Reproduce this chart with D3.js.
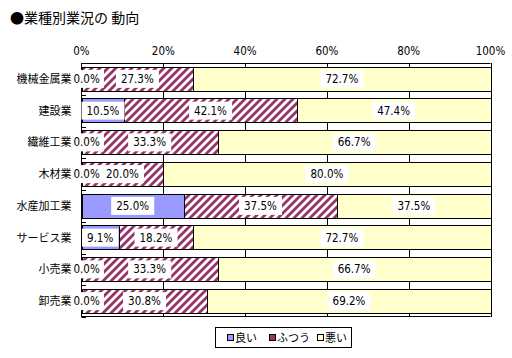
<!DOCTYPE html>
<html><head><meta charset="utf-8">
<script src="https://cdn.jsdelivr.net/npm/d3@7"></script>
<style>
html,body{margin:0;padding:0;background:#fff;}
svg{display:block;}
</style></head>
<body>
<script>
const categories = ['機械金属業','建設業','繊維工業','木材業','水産加工業','サービス業','小売業','卸売業'];
const seriesNames = ['良い','ふつう','悪い'];
const good = [0.0, 10.5, 0.0, 0.0, 25.0, 9.1, 0.0, 0.0];
const normal = [27.3, 42.1, 33.3, 20.0, 37.5, 18.2, 33.3, 30.8];
const bad = [72.7, 47.4, 66.7, 80.0, 37.5, 72.7, 66.7, 69.2];
const tickValues = [0, 20, 40, 60, 80, 100];
const tickLabels = ['0%','20%','40%','60%','80%','100%'];

const W = 512, H = 358;
const numFont = '"Liberation Sans Narrow","DejaVu Sans Condensed",sans-serif';
const jpFont = '"Noto Sans CJK JP","Noto Sans CJK SC",sans-serif';

const svg = d3.select('body').append('svg').attr('width', W).attr('height', H);

const defs = svg.append('defs');
const pat = defs.append('pattern').attr('id','hatch').attr('patternUnits','userSpaceOnUse')
  .attr('width',8).attr('height',8);
pat.append('rect').attr('width',8).attr('height',8).attr('fill','#fff');
pat.append('path').attr('d','M-2,2 L2,-2 M0,8 L8,0 M6,10 L10,6')
  .attr('stroke','#993366').attr('stroke-width',2.8);

const fills = ['#9999FF','url(#hatch)','#FFFFCC'];

const x = d3.scaleLinear().domain([0,100]).range([81.5, 490.5]);
const y = d3.scaleBand().domain(categories).range([63, 317]).paddingInner(0.23).paddingOuter(0.115);

// title
svg.append('text').attr('x', 10).attr('y', 23).attr('font-family', jpFont).attr('font-size', 14)
  .attr('fill','#000').text('●業種別業況の 動向');

// gridlines
svg.append('g').selectAll('line').data(tickValues.slice(1)).join('line')
  .attr('x1', d => Math.round(x(d)) + 0.5).attr('x2', d => Math.round(x(d)) + 0.5)
  .attr('y1', 63).attr('y2', 317).attr('stroke', '#000').attr('stroke-width', 1);

// stacked data
const rows = categories.map((c, i) => ({cat: c, vals: [good[i], normal[i], bad[i]]}));
const segs = [];
rows.forEach(r => {
  let acc = 0;
  r.vals.forEach((v, k) => { segs.push({cat: r.cat, k, v, x0: acc, x1: acc + v}); acc += v; });
});

svg.append('g').selectAll('rect').data(segs.filter(s => s.v > 0)).join('rect')
  .attr('x', d => Math.round(x(d.x0)) + 0.5)
  .attr('width', d => Math.round(x(d.x1)) - Math.round(x(d.x0)))
  .attr('y', d => Math.round(y(d.cat)) + 0.5)
  .attr('height', d => Math.round(y.bandwidth()))
  .attr('fill', d => fills[d.k]).attr('stroke', '#000').attr('stroke-width', 1);

// axes lines
svg.append('line').attr('x1', 81.5).attr('x2', 490.5).attr('y1', 63.5).attr('y2', 63.5).attr('stroke','#000');
svg.append('line').attr('x1', 81.5).attr('x2', 490.5).attr('y1', 316.5).attr('y2', 316.5).attr('stroke','#000');
svg.append('line').attr('x1', 81.5).attr('x2', 81.5).attr('y1', 63).attr('y2', 317).attr('stroke','#000');
const bounds = d3.range(categories.length + 1).map(i => 63 + i * y.step());
svg.append('g').selectAll('line').data(bounds).join('line')
  .attr('x1', 81.5).attr('x2', 86).attr('y1', d => Math.round(d) + 0.5).attr('y2', d => Math.round(d) + 0.5)
  .attr('stroke','#000');

// top tick labels
svg.append('g').selectAll('text').data(tickValues).join('text')
  .attr('x', d => x(d)).attr('y', 55).attr('text-anchor','middle')
  .attr('font-family', numFont).attr('font-size', 11.5).attr('fill','#000')
  .text((d, i) => tickLabels[i]);

// data labels
const lg = svg.append('g');
segs.forEach(s => {
  const zero = s.v === 0;
  const cx = zero ? 73.5 : x((s.x0 + s.x1) / 2);
  const cy = y(s.cat) + y.bandwidth() / 2;
  const g = lg.append('g');
  const t = g.append('text').attr('x', cx).attr('y', cy + 4).attr('text-anchor', zero ? 'start' : 'middle')
    .attr('font-family', numFont).attr('font-size', 11.5).attr('fill','#000')
    .text(s.v.toFixed(1) + '%');
  const bb = t.node().getBBox();
  g.insert('rect', 'text').attr('x', bb.x - (zero ? 2 : 5)).attr('y', cy - 9)
    .attr('width', bb.width + (zero ? 6 : 10)).attr('height', 18)
    .attr('fill', '#fff');
});

// category labels
svg.append('g').selectAll('text').data(categories).join('text')
  .attr('x', 71.5).attr('y', d => y(d) + y.bandwidth() / 2 + 4).attr('text-anchor','end')
  .attr('font-family', jpFont).attr('font-size', 11).attr('fill','#000')
  .text(d => d);

// legend
const leg = svg.append('g');
leg.append('rect').attr('x', 215.5).attr('y', 327.5).attr('width', 136).attr('height', 20)
  .attr('fill','#fff').attr('stroke','#000');
const legX = [227, 269, 317];
seriesNames.forEach((n, k) => {
  leg.append('rect').attr('x', legX[k] + 0.5).attr('y', 334.5).attr('width', 6).attr('height', 6)
    .attr('fill', k === 1 ? '#993366' : fills[k]).attr('stroke','#000');
  leg.append('text').attr('x', legX[k] + 8).attr('y', 342).attr('font-family', jpFont)
    .attr('font-size', 11).attr('fill','#000').text(n);
});
</script>
</body></html>
